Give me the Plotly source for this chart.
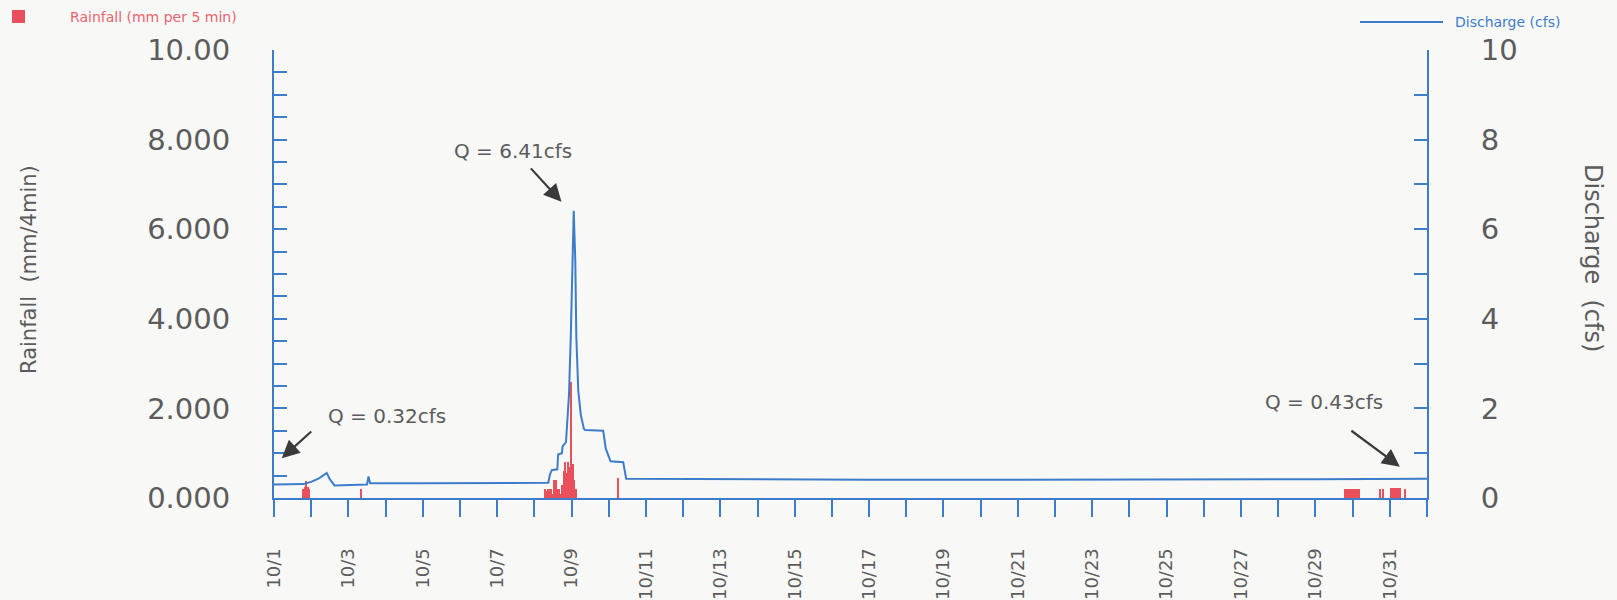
import plotly.graph_objects as go

BLUE = "#3d7cc9"
RED = "#e9505c"
GREY = "#5c5c5c"
BG = "#f8f8f7"
FONT = "DejaVu Sans, sans-serif"

# rainfall (left axis), hourly totals
rain_time = [
    "2004-10-01 19:00", "2004-10-01 20:00", "2004-10-01 21:00", "2004-10-01 22:00", "2004-10-01 23:00",
    "2004-10-03 08:00",
    "2004-10-08 07:00", "2004-10-08 08:00", "2004-10-08 09:00", "2004-10-08 10:00", "2004-10-08 11:00",
    "2004-10-08 12:00", "2004-10-08 13:00", "2004-10-08 14:00", "2004-10-08 15:00", "2004-10-08 16:00",
    "2004-10-08 17:00", "2004-10-08 18:00", "2004-10-08 19:00", "2004-10-08 20:00", "2004-10-08 21:00",
    "2004-10-08 22:00", "2004-10-08 23:00", "2004-10-09 00:00", "2004-10-09 01:00", "2004-10-09 02:00",
    "2004-10-09 03:00",
    "2004-10-10 06:00",
    "2004-10-29 19:00", "2004-10-29 20:00", "2004-10-29 21:00", "2004-10-29 22:00", "2004-10-29 23:00",
    "2004-10-30 00:00", "2004-10-30 01:00", "2004-10-30 02:00", "2004-10-30 03:00", "2004-10-30 04:00",
    "2004-10-30 18:00", "2004-10-30 20:00",
    "2004-10-31 01:00", "2004-10-31 02:00", "2004-10-31 03:00", "2004-10-31 04:00", "2004-10-31 05:00",
    "2004-10-31 06:00", "2004-10-31 07:00", "2004-10-31 10:00",
]
rain_mm = [
    0.2, 0.25, 0.38, 0.25, 0.2,
    0.2,
    0.2, 0.15, 0.2, 0.2, 0.2,
    0.1, 0.4, 0.41, 0.2, 0.2,
    0.1, 0.3, 0.6, 0.8, 0.55,
    0.8, 0.7, 2.6, 0.75, 0.4,
    0.2,
    0.45,
    0.2, 0.2, 0.2, 0.2, 0.2,
    0.2, 0.2, 0.2, 0.2, 0.2,
    0.2, 0.2,
    0.22, 0.22, 0.22, 0.22, 0.22,
    0.22, 0.22, 0.2,
]

# discharge (right axis)
q_time = [
    "2004-10-01 00:00", "2004-10-01 12:00", "2004-10-01 19:00", "2004-10-02 00:00", "2004-10-02 05:00",
    "2004-10-02 10:00", "2004-10-02 12:00", "2004-10-02 15:00", "2004-10-03 00:00", "2004-10-03 12:00",
    "2004-10-03 13:00", "2004-10-03 14:00", "2004-10-05 00:00", "2004-10-07 00:00", "2004-10-08 09:00",
    "2004-10-08 10:00", "2004-10-08 11:15", "2004-10-08 14:50", "2004-10-08 15:20", "2004-10-08 17:45",
    "2004-10-08 18:15", "2004-10-08 20:25", "2004-10-08 21:05", "2004-10-08 22:20", "2004-10-08 23:30",
    "2004-10-09 00:30", "2004-10-09 01:25", "2004-10-09 02:25", "2004-10-09 03:05", "2004-10-09 04:20",
    "2004-10-09 06:00", "2004-10-09 07:55", "2004-10-09 08:40", "2004-10-09 20:25", "2004-10-09 22:05",
    "2004-10-10 01:10", "2004-10-10 09:20", "2004-10-10 11:15", "2004-10-13 00:00", "2004-10-17 00:00",
    "2004-10-21 00:00", "2004-10-25 00:00", "2004-10-29 00:00", "2004-11-01 00:00",
]
q_cfs = [
    0.30, 0.30, 0.31, 0.36, 0.44,
    0.56, 0.42, 0.28, 0.29, 0.30,
    0.48, 0.33, 0.33, 0.34, 0.34,
    0.52, 0.62, 0.64, 0.97, 1.00,
    1.15, 1.25, 1.65, 2.30, 3.60,
    5.20, 6.41, 5.30, 3.60, 2.40,
    1.85, 1.55, 1.52, 1.50, 1.10,
    0.82, 0.80, 0.43, 0.42, 0.41,
    0.41, 0.41, 0.42, 0.43,
]

left_ticks = [0, 2, 4, 6, 8, 10]
left_text = ["0.000", "2.000", "4.000", "6.000", "8.000", "10.00"]

# plot box in page pixels
L, R, T, B = 274, 1427, 50, 498


def px(x):
    return (x - L) / (R - L)


def py(y):
    return (B - y) / (B - T)


fig = go.Figure()
fig.add_trace(go.Bar(
    x=rain_time, y=rain_mm, name="Rainfall (mm per 5 min)",
    width=3600000, marker=dict(color=RED, line=dict(width=0)),
))
fig.add_trace(go.Scatter(
    x=q_time, y=q_cfs, name="Discharge (cfs)", mode="lines",
    line=dict(color=BLUE, width=2), yaxis="y2",
))

axis_common = dict(showline=True, linecolor=BLUE, linewidth=2, showgrid=False,
                   zeroline=False, tickcolor=BLUE, tickwidth=1.5, automargin=False)

fig.update_layout(
    width=1617, height=600,
    paper_bgcolor=BG, plot_bgcolor=BG,
    font=dict(family=FONT, color=GREY),
    margin=dict(l=L, r=1617 - R, t=T, b=600 - B),
    bargap=0, showlegend=False,
    xaxis=dict(
        type="date", range=["2004-10-01", "2004-11-01"],
        tick0="2004-10-01", dtick=2 * 86400000, tickformat="%-m/%-d",
        tickangle=-90, ticks="outside", ticklen=17,
        tickfont=dict(size=18, color=GREY), ticklabelstandoff=24,
        minor=dict(dtick=86400000, ticks="outside", ticklen=17,
                   tickcolor=BLUE, tickwidth=1.5, showgrid=False),
        **axis_common,
    ),
    yaxis=dict(
        range=[0, 10], tickvals=left_ticks, ticktext=left_text,
        ticks="inside", ticklen=13, ticklabelstandoff=36,
        tickfont=dict(size=29, color=GREY),
        minor=dict(dtick=0.5, ticks="inside", ticklen=13,
                   tickcolor=BLUE, tickwidth=1.5, showgrid=False),
        **axis_common,
    ),
    yaxis2=dict(
        range=[0, 10], overlaying="y", side="right", dtick=2,
        ticks="inside", ticklen=13, ticklabelstandoff=46,
        tickfont=dict(size=29, color=GREY),
        minor=dict(dtick=1, ticks="inside", ticklen=13,
                   tickcolor=BLUE, tickwidth=1.5, showgrid=False),
        **axis_common,
    ),
)

# legend keys (drawn by hand so they sit in the corners)
fig.add_shape(type="rect", xref="paper", yref="paper",
              x0=px(12), x1=px(25), y0=py(23), y1=py(10),
              fillcolor=RED, line=dict(width=0))
fig.add_annotation(text="Rainfall (mm per 5 min)", xref="paper", yref="paper",
                   x=px(68), y=py(17), xanchor="left", yanchor="middle",
                   showarrow=False, font=dict(size=14, color="#e8646e"))
fig.add_shape(type="line", xref="paper", yref="paper",
              x0=px(1360), x1=px(1443), y0=py(22), y1=py(22),
              line=dict(color=BLUE, width=2))
fig.add_annotation(text="Discharge (cfs)", xref="paper", yref="paper",
                   x=px(1453), y=py(22), xanchor="left", yanchor="middle",
                   showarrow=False, font=dict(size=14, color=BLUE))

# axis titles
fig.add_annotation(text="Rainfall\u00a0\u00a0(mm/4min)", xref="paper", yref="paper",
                   x=px(29), y=py(270), xanchor="center", yanchor="middle",
                   textangle=-90, showarrow=False, font=dict(size=21, color=GREY))
fig.add_annotation(text="Discharge\u00a0\u00a0(cfs)", xref="paper", yref="paper",
                   x=px(1593), y=py(258), xanchor="center", yanchor="middle",
                   textangle=90, showarrow=False, font=dict(size=24, color=GREY))

# callouts
notes = [
    ("Q = 6.41cfs", "2004-10-07 10:30", 7.74),
    ("Q = 0.32cfs", "2004-10-04 01:10", 1.83),
    ("Q = 0.43cfs", "2004-10-29 05:30", 2.15),
]
for txt, nx, ny in notes:
    fig.add_annotation(text=txt, x=nx, y=ny, xref="x", yref="y", showarrow=False,
                       font=dict(size=20, color=GREY))

arrows = [
    ("2004-10-08 17:30", 6.61, -32, -35),
    ("2004-10-01 05:00", 0.89, 31, -28),
    ("2004-10-31 06:30", 0.70, -50, -37),
]
for ax_x, ax_y, dx, dy in arrows:
    fig.add_annotation(text="", x=ax_x, y=ax_y, xref="x", yref="y", showarrow=True,
                       ax=dx, ay=dy, arrowhead=2, arrowsize=1.6, arrowwidth=2.2,
                       arrowcolor="#3a3a3a")

fig.write_html("out.html", config={"displayModeBar": False},
               post_script="document.body.style.margin='0';")
